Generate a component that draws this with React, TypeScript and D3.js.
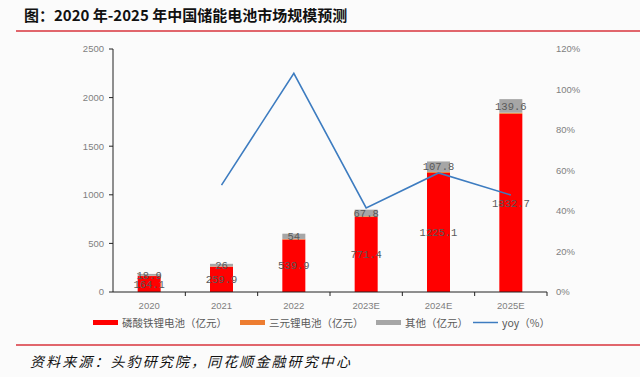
import React from "react";
import * as d3 from "d3";

const categories = ["2020", "2021", "2022", "2023E", "2024E", "2025E"];
const lfp = [164.1, 259.9, 539.9, 771.4, 1225.1, 1832.7];
const ternary = [3, 4, 6, 8, 10, 12];
const other = [18.9, 26, 54, 67.8, 107.8, 139.6];
const yoy = [null, 52.8, 108, 41.5, 58.8, 47.9];
const leftTicks = [0, 500, 1000, 1500, 2000, 2500];
const rightTicks = [0, 20, 40, 60, 80, 100, 120];
const legendItems = ["磷酸铁锂电池（亿元）", "三元锂电池（亿元）", "其他（亿元）", "yoy（%）"];

const W = 640, H = 377;
const plot = { left: 113, right: 547, top: 49, bottom: 292 };
const colors = { lfp: "#ff0000", ternary: "#ed7d31", other: "#a6a6a6", yoy: "#3d7cc0" };
const axisText = "#7f7f7f";
const labelText = "#595959";

export default function App() {
  const x = d3.scaleBand<string>().domain(categories).range([plot.left, plot.right]).paddingInner(0).paddingOuter(0);
  const y = d3.scaleLinear().domain([0, 2500]).range([plot.bottom, plot.top]);
  const yr = d3.scaleLinear().domain([0, 120]).range([plot.bottom, plot.top]);
  const bw = 23;

  const stacked = categories.map((c, i) => {
    const a = lfp[i], b = ternary[i], o = other[i];
    return { c, segs: [
      { y0: 0, y1: a, color: colors.lfp },
      { y0: a, y1: a + b, color: colors.ternary },
      { y0: a + b, y1: a + b + o, color: colors.other },
    ], a, b, o };
  });

  const cx = (c: string) => (x(c) as number) + x.bandwidth() / 2;
  const linePts = categories.map((c, i) => ({ c, v: yoy[i] })).filter(d => d.v !== null) as { c: string; v: number }[];
  const line = d3.line<{ c: string; v: number }>().x(d => cx(d.c)).y(d => yr(d.v));

  const legendX = [93, 240, 376, 473];
  const legendColors = [colors.lfp, colors.ternary, colors.other, colors.yoy];
  const boundaries = categories.map(c => (x(c) as number) + x.bandwidth());

  return (
    <svg width={W} height={H} style={{ position: "absolute", left: 0, top: 0, background: "#fbfbfb" }}
      fontFamily="'Noto Sans CJK SC', 'Noto Sans', sans-serif">
      <rect x={0} y={0} width={W} height={H} fill="#fbfbfb" />
      <text x={24} y={21} fontSize={15} fontWeight="bold" fill="#111">图：2020 年-2025 年中国储能电池市场规模预测</text>
      <line x1={16} x2={640} y1={31} y2={31} stroke="#d9343c" strokeWidth={1.5} />

      {/* left axis */}
      <line x1={plot.left} x2={plot.left} y1={plot.top} y2={plot.bottom} stroke="#222" strokeWidth={1} />
      {leftTicks.map(t => (
        <g key={t}>
          <line x1={plot.left - 4} x2={plot.left} y1={y(t)} y2={y(t)} stroke="#222" />
          <text x={104} y={y(t)} dy="0.35em" textAnchor="end" fontSize={9.5} fill={axisText}
            fontFamily="'Liberation Sans', Arial, sans-serif">{t}</text>
        </g>
      ))}
      {rightTicks.map(t => (
        <text key={t} x={556} y={yr(t)} dy="0.35em" fontSize={9.5} fill={axisText}
          fontFamily="'Liberation Sans', Arial, sans-serif">{t}%</text>
      ))}

      {/* bars */}
      {stacked.map(s => (
        <g key={s.c}>
          {s.segs.map((g, j) => (
            <rect key={j} x={cx(s.c) - bw / 2} width={bw} y={y(g.y1)} height={y(g.y0) - y(g.y1)} fill={g.color} />
          ))}
        </g>
      ))}

      {/* x axis */}
      <line x1={plot.left} x2={plot.right} y1={plot.bottom} y2={plot.bottom} stroke="#222" strokeWidth={1} />
      {boundaries.map((b, i) => (
        <line key={i} x1={b} x2={b} y1={plot.bottom} y2={plot.bottom + 4} stroke="#222" />
      ))}
      {categories.map(c => (
        <text key={c} x={cx(c)} y={306} dy="0.35em" textAnchor="middle" fontSize={9.5} fill={axisText}
          fontFamily="'Liberation Sans', Arial, sans-serif">{c}</text>
      ))}

      {/* yoy line */}
      <path d={line(linePts) || ""} fill="none" stroke={colors.yoy} strokeWidth={1.6} />

      {/* data labels */}
      {stacked.map(s => (
        <g key={s.c} fontFamily="'Liberation Mono', 'DejaVu Sans Mono', monospace" fontSize={10.5} fill={labelText} textAnchor="middle">
          <text x={cx(s.c)} y={y(s.a / 2)} dy="0.35em">{s.a}</text>
          <text x={cx(s.c)} y={y(s.a + s.b + s.o / 2)} dy="0.35em">{s.o}</text>
        </g>
      ))}

      {/* legend */}
      {legendItems.map((t, i) => (
        <g key={t}>
          {i < 3 ? (
            <rect x={legendX[i]} y={320} width={25} height={5} fill={legendColors[i]} />
          ) : (
            <line x1={legendX[i]} x2={legendX[i] + 25} y1={322.5} y2={322.5} stroke={legendColors[i]} strokeWidth={1.5} />
          )}
          <text x={legendX[i] + 29} y={323} dy="0.35em" fontSize={10.5} fill={labelText}>{t}</text>
        </g>
      ))}

      <line x1={16} x2={640} y1={345} y2={345} stroke="#d9343c" strokeWidth={1.5} />
      <text x={30} y={367} fontSize={14} fontStyle="italic" fill="#111" letterSpacing={2.1}
        fontFamily="'Noto Sans CJK SC', serif">资料来源：头豹研究院，同花顺金融研究中心</text>
    </svg>
  );
}
